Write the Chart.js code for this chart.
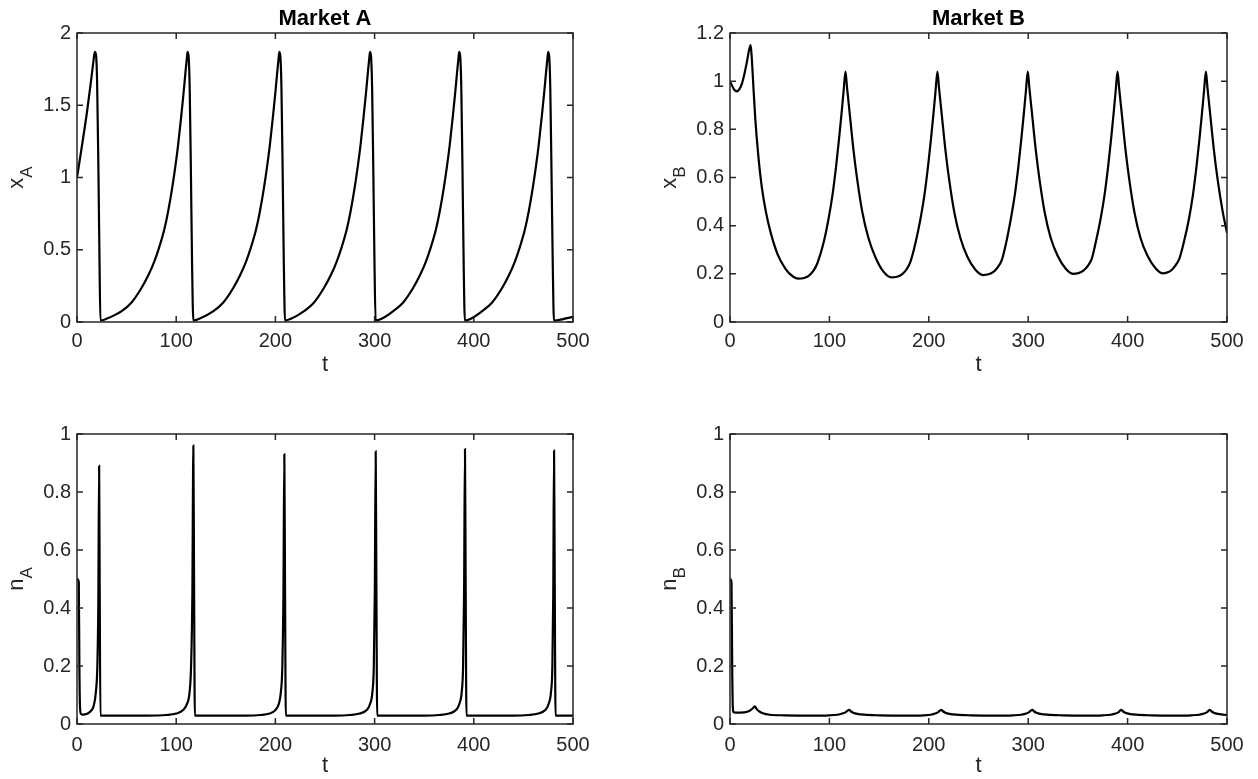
<!DOCTYPE html>
<html>
<head>
<meta charset="utf-8">
<script src="https://cdn.jsdelivr.net/npm/chart.js@4"></script>
<style>
  body { margin: 0; background: #fff; }
  #wrap { position: relative; width: 1258px; height: 779px; background: #fff; }
  canvas { position: absolute; }
</style>
</head>
<body>
<div id="wrap">
  <canvas id="cXA" width="629" height="389" style="left:0;top:0"></canvas>
  <canvas id="cXB" width="629" height="389" style="left:629px;top:0"></canvas>
  <canvas id="cNA" width="629" height="390" style="left:0;top:389px"></canvas>
  <canvas id="cNB" width="629" height="390" style="left:629px;top:389px"></canvas>
</div>
<script>
// panel titles
var marketTitles = ["Market A", "Market B"];

// tick labels
var tTicks = [0, 100, 200, 300, 400, 500];
var xATicks = [0, 0.5, 1, 1.5, 2];
var xBTicks = [0, 0.2, 0.4, 0.6, 0.8, 1, 1.2];
var nTicks = [0, 0.2, 0.4, 0.6, 0.8, 1];

// x_A (market A price)
var tXA = [0, 5, 10, 14, 16.5, 18, 19.3, 20.3, 21.5, 22.7, 23.6,
  29.6, 45, 55, 65, 72, 78, 83, 88, 92, 96, 99, 102, 105, 107.5, 109.5, 110.8, 111.5, 112.6, 113.6, 114.8, 116, 117.3,
  123.3, 137.5, 147.5, 157.5, 164.5, 170.5, 175.5, 180.5, 184.5, 188.5, 191.5, 194.5, 197.5, 200, 202, 203.3, 204, 205.1, 206.1, 207.3, 208.5, 209.7,
  215.7, 228.9, 238.9, 248.9, 255.9, 261.9, 266.9, 271.9, 275.9, 279.9, 282.9, 285.9, 288.9, 291.4, 293.4, 294.7, 295.4, 296.5, 297.5, 298.7, 299.9, 301,
  307, 318.8, 328.8, 338.8, 345.8, 351.8, 356.8, 361.8, 365.8, 369.8, 372.8, 375.8, 378.8, 381.3, 383.3, 384.6, 385.3, 386.4, 387.4, 388.6, 389.8, 391,
  397, 408.5, 418.5, 428.5, 435.5, 441.5, 446.5, 451.5, 455.5, 459.5, 462.5, 465.5, 468.5, 471, 473, 474.3, 475, 476.1, 477.1, 478.3, 479.6, 480.8,
  490, 500];
var xA = [1.00, 1.22, 1.45, 1.66, 1.80, 1.87, 1.84, 1.65, 1.10, 0.42, 0.01,
  0.022, 0.075, 0.135, 0.235, 0.325, 0.42, 0.52, 0.64, 0.77, 0.93, 1.07, 1.23, 1.42, 1.59, 1.74, 1.83, 1.87, 1.83, 1.62, 1.05, 0.40, 0.01,
  0.022, 0.075, 0.135, 0.235, 0.325, 0.42, 0.52, 0.64, 0.77, 0.93, 1.07, 1.23, 1.42, 1.59, 1.74, 1.83, 1.87, 1.83, 1.62, 1.05, 0.40, 0.01,
  0.022, 0.075, 0.135, 0.235, 0.325, 0.42, 0.52, 0.64, 0.77, 0.93, 1.07, 1.23, 1.42, 1.59, 1.74, 1.83, 1.87, 1.83, 1.62, 1.05, 0.40, 0.01,
  0.022, 0.075, 0.135, 0.235, 0.325, 0.42, 0.52, 0.64, 0.77, 0.93, 1.07, 1.23, 1.42, 1.59, 1.74, 1.83, 1.87, 1.83, 1.62, 1.05, 0.40, 0.01,
  0.022, 0.075, 0.135, 0.235, 0.325, 0.42, 0.52, 0.64, 0.77, 0.93, 1.07, 1.23, 1.42, 1.59, 1.74, 1.83, 1.87, 1.83, 1.62, 1.05, 0.40, 0.01,
  0.02, 0.035];

// x_B (market B price)
var tXB = [0, 2, 4.5, 7, 9.5, 12, 14.5, 17, 19, 20.8, 22, 23.5, 25.5, 28.5, 32, 36, 41, 48, 56, 63, 69, 74.5, 79.5, 84, 88,
  94.2, 99.2, 103.2, 106.7, 109.7, 112.2, 114.2, 116.2,
  117.7, 120.2, 124.2, 128.2, 133.2, 139.2, 146.2, 154.2, 162.5, 168, 173, 177.5, 181.5, 186.7, 191.7, 195.7, 199.2, 202.2, 204.7, 206.7, 208.7,
  210.2, 212.7, 216.7, 220.7, 225.7, 231.7, 238.7, 246.7, 254.5, 260, 265, 269.5, 273.5, 277.6, 282.6, 286.6, 290.1, 293.1, 295.6, 297.6, 299.6,
  301.1, 303.6, 307.6, 311.6, 316.6, 322.6, 329.6, 337.6, 345, 350.5, 355.5, 360, 364, 367.9, 372.9, 376.9, 380.4, 383.4, 385.9, 387.9, 389.9,
  391.4, 393.9, 397.9, 401.9, 406.9, 412.9, 419.9, 427.9, 435, 439.5, 444, 448, 452, 456.8, 461.8, 465.8, 469.3, 472.3, 474.8, 476.8, 478.8,
  480.3, 482.8, 486.8, 490.8, 495.8, 500];
var xB = [1.00, 0.982, 0.963, 0.958, 0.967, 0.99, 1.03, 1.08, 1.125, 1.15, 1.09, 0.98, 0.84, 0.69, 0.56, 0.46, 0.37, 0.28, 0.22, 0.19, 0.18, 0.183, 0.193, 0.213, 0.245,
  0.33, 0.43, 0.53, 0.645, 0.76, 0.865, 0.955, 1.04,
  0.975, 0.875, 0.715, 0.585, 0.455, 0.35, 0.27, 0.21, 0.185, 0.188, 0.198, 0.218, 0.25, 0.33, 0.43, 0.53, 0.645, 0.76, 0.865, 0.955, 1.04,
  0.975, 0.875, 0.715, 0.585, 0.455, 0.35, 0.272, 0.218, 0.195, 0.198, 0.208, 0.228, 0.258, 0.325, 0.43, 0.53, 0.645, 0.76, 0.865, 0.955, 1.04,
  0.975, 0.875, 0.715, 0.585, 0.455, 0.35, 0.275, 0.222, 0.20, 0.203, 0.213, 0.233, 0.263, 0.33, 0.43, 0.53, 0.645, 0.76, 0.865, 0.955, 1.04,
  0.975, 0.875, 0.715, 0.585, 0.455, 0.35, 0.276, 0.224, 0.202, 0.205, 0.215, 0.234, 0.262, 0.335, 0.43, 0.53, 0.645, 0.76, 0.865, 0.955, 1.04,
  0.975, 0.875, 0.715, 0.585, 0.455, 0.37];

// n_A (fraction in market A)
var tNA = [0, 1.8, 2.4, 3, 4, 6, 10, 14, 17, 19, 20.5, 21.5, 22.3, 22.9, 23.6,
  40, 70, 90, 100, 107, 111, 113.5, 115, 116.3, 117.3, 118, 118.8,
  140, 170, 185, 194, 200, 203.5, 205.5, 207, 208.1, 209, 209.7, 210.5,
  230, 260, 275, 285, 292, 295.5, 297.8, 299.2, 300.2, 301.1, 301.8, 302.6,
  320, 350, 365, 375, 382, 385.5, 387.8, 389.2, 390.2, 391.1, 391.8, 392.6,
  410, 440, 455, 465, 472, 475.5, 477.8, 479.2, 480.1, 480.9, 481.6, 482.4, 500];
var nA = [0.5, 0.49, 0.2, 0.06, 0.035, 0.032, 0.035, 0.045, 0.065, 0.11, 0.2, 0.42, 0.89, 0.45, 0.029,
  0.029, 0.029, 0.031, 0.036, 0.048, 0.07, 0.11, 0.2, 0.45, 0.96, 0.5, 0.029,
  0.029, 0.029, 0.031, 0.036, 0.048, 0.07, 0.11, 0.2, 0.45, 0.93, 0.48, 0.029,
  0.029, 0.029, 0.031, 0.036, 0.048, 0.07, 0.11, 0.2, 0.45, 0.94, 0.48, 0.029,
  0.029, 0.029, 0.031, 0.036, 0.048, 0.07, 0.11, 0.2, 0.45, 0.948, 0.48, 0.029,
  0.029, 0.029, 0.031, 0.036, 0.048, 0.07, 0.11, 0.2, 0.45, 0.943, 0.48, 0.029, 0.029];

// n_B (fraction in market B)
var tNB = [0, 1.5, 2.2, 2.8, 3.5, 8, 14, 18, 21, 23.5, 25, 26.5, 29, 33, 40, 55, 80,
  100, 108, 113, 116.5, 119.8, 121.5, 124, 128, 135, 150, 175,
  195, 202, 206.5, 209.5, 212.5, 214.2, 216.7, 220.7, 227.7, 242, 267,
  285, 293, 298, 301, 304, 305.7, 308.2, 312.2, 319.2, 334, 358,
  375, 383, 388, 391, 393.5, 395.2, 397.7, 401.7, 408.7, 423, 447,
  464, 472, 477, 480, 482.5, 484.2, 486.7, 490.7, 497, 500];
var nB = [0.5, 0.49, 0.2, 0.06, 0.041, 0.039, 0.040, 0.043, 0.049, 0.056, 0.061, 0.053, 0.044, 0.037, 0.032, 0.030, 0.029,
  0.030, 0.032, 0.036, 0.041, 0.049, 0.044, 0.039, 0.035, 0.032, 0.030, 0.029,
  0.030, 0.032, 0.036, 0.041, 0.049, 0.044, 0.039, 0.035, 0.032, 0.030, 0.029,
  0.030, 0.032, 0.036, 0.041, 0.049, 0.044, 0.039, 0.035, 0.032, 0.030, 0.029,
  0.030, 0.032, 0.036, 0.041, 0.049, 0.044, 0.039, 0.035, 0.032, 0.030, 0.029,
  0.030, 0.032, 0.036, 0.041, 0.049, 0.044, 0.039, 0.035, 0.032, 0.031];

var FONT = 'Helvetica, Arial, "Liberation Sans", sans-serif';
var INK = '#262626';

// box around the axes with inward ticks on all four sides, like matlab
var matlabBox = {
  id: 'matlabBox',
  afterDraw: function(chart) {
    var ctx = chart.ctx, a = chart.chartArea;
    var xs = chart.scales.x, ys = chart.scales.y;
    var L = 6;
    ctx.save();
    ctx.strokeStyle = INK;
    ctx.lineWidth = 1.5;
    ctx.strokeRect(a.left, a.top, a.right - a.left, a.bottom - a.top);
    ctx.beginPath();
    xs.ticks.forEach(function(t) {
      var px = xs.getPixelForValue(t.value);
      ctx.moveTo(px, a.bottom); ctx.lineTo(px, a.bottom - L);
      ctx.moveTo(px, a.top); ctx.lineTo(px, a.top + L);
    });
    ys.ticks.forEach(function(t) {
      var py = ys.getPixelForValue(t.value);
      ctx.moveTo(a.left, py); ctx.lineTo(a.left + L, py);
      ctx.moveTo(a.right, py); ctx.lineTo(a.right - L, py);
    });
    ctx.stroke();
    ctx.restore();
  }
};

// rotated y label with a subscript (x_A, n_B ...)
var subLabel = {
  id: 'subLabel',
  afterDraw: function(chart, args, opts) {
    var ctx = chart.ctx, a = chart.chartArea;
    ctx.save();
    ctx.translate(a.left - 54, (a.top + a.bottom) / 2);
    ctx.rotate(-Math.PI / 2);
    ctx.fillStyle = INK;
    ctx.textBaseline = 'alphabetic';
    ctx.font = '22px ' + FONT;
    var w1 = ctx.measureText(opts.main).width;
    ctx.font = '17px ' + FONT;
    var w2 = ctx.measureText(opts.sub).width;
    var x0 = -(w1 + w2) / 2;
    ctx.font = '22px ' + FONT;
    ctx.fillText(opts.main, x0, 0);
    ctx.font = '17px ' + FONT;
    ctx.fillText(opts.sub, x0 + w1, 9);
    ctx.restore();
  }
};

function toPoints(ts, vs) {
  return ts.map(function(t, i) { return { x: t, y: vs[i] }; });
}

function makePanel(id, ts, vs, yTicks, yMax, lbl, title, p) {
  var ctx = document.getElementById(id).getContext('2d');
  return new Chart(ctx, {
    type: 'line',
    data: {
      datasets: [{
        data: toPoints(ts, vs),
        borderColor: '#000',
        borderWidth: 2.2,
        pointRadius: 0,
        fill: false,
        cubicInterpolationMode: 'monotone'
      }]
    },
    plugins: [matlabBox, subLabel],
    options: {
      responsive: false,
      animation: false,
      events: [],
      layout: { padding: { left: 0, right: p.right, top: p.top, bottom: 0 } },
      plugins: {
        legend: { display: false },
        tooltip: { enabled: false },
        title: {
          display: !!title,
          text: title || '',
          fullSize: false,
          color: '#000',
          font: { family: FONT, size: 22, weight: 'bold', lineHeight: 1.2 },
          padding: { top: 6, bottom: 0.6 }
        },
        subLabel: lbl
      },
      scales: {
        x: {
          type: 'linear',
          min: 0,
          max: 500,
          afterBuildTicks: function(s) { s.ticks = tTicks.map(function(v) { return { value: v }; }); },
          afterFit: function(s) { s.height = p.xh; },
          grid: { display: false, drawTicks: false },
          border: { display: false },
          ticks: {
            color: INK, padding: p.tickPad, maxRotation: 0, autoSkip: false,
            font: { family: FONT, size: 20 },
            callback: function(v) { return String(v); }
          },
          title: {
            display: true, text: 't', color: INK,
            font: { family: FONT, size: 22 },
            padding: { top: 0, bottom: p.tpad }
          }
        },
        y: {
          min: 0,
          max: yMax,
          afterBuildTicks: function(s) { s.ticks = yTicks.map(function(v) { return { value: v }; }); },
          afterFit: function(s) { s.width = p.yw; },
          grid: { display: false, drawTicks: false },
          border: { display: false },
          ticks: {
            color: INK, padding: 6, autoSkip: false,
            font: { family: FONT, size: 20 },
            callback: function(v) { return String(v); }
          }
        }
      }
    }
  });
}

makePanel('cXA', tXA, xA, xATicks, 2, { main: 'x', sub: 'A' }, marketTitles[0],
  { right: 56, top: 0, yw: 77, xh: 67, tpad: 11, tickPad: 7 });
makePanel('cXB', tXB, xB, xBTicks, 1.2, { main: 'x', sub: 'B' }, marketTitles[1],
  { right: 31, top: 0, yw: 101, xh: 67, tpad: 11, tickPad: 7 });
makePanel('cNA', tNA, nA, nTicks, 1, { main: 'n', sub: 'A' }, null,
  { right: 56, top: 45, yw: 77, xh: 55, tpad: 0, tickPad: 9 });
makePanel('cNB', tNB, nB, nTicks, 1, { main: 'n', sub: 'B' }, null,
  { right: 31, top: 45, yw: 101, xh: 55, tpad: 0, tickPad: 9 });
</script>
</body>
</html>
